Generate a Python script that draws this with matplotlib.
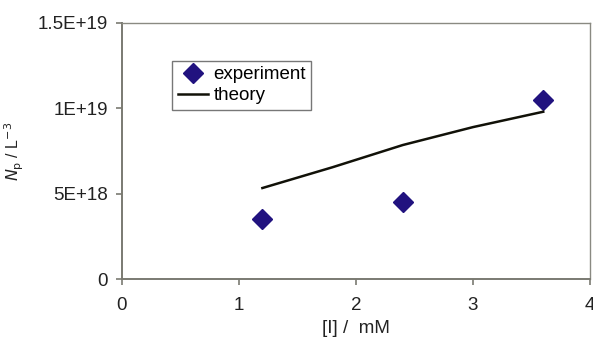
import matplotlib.pyplot as plt
from matplotlib.ticker import FixedLocator

plt.rcParams["font.family"] = ["Liberation Sans", "DejaVu Sans"]

# measured particle density vs. initiator concentration
conc_exp = [1.2, 2.4, 3.6]
np_exp = [3.5e18, 4.5e18, 10.5e18]

# model curve
conc_theory = [1.2, 1.8, 2.4, 3.0, 3.6]
np_theory = [5.33e18, 6.55e18, 7.85e18, 8.9e18, 9.8e18]

yticks = [0, 5e18, 1e19, 1.5e19]
ytick_labels = ["0", "5E+18", "1E+19", "1.5E+19"]
xticks = [0, 1, 2, 3, 4]

fig = plt.figure(figsize=(5.93, 3.41), dpi=100)
ax = fig.add_axes([0.2057, 0.1818, 0.7893, 0.7508])

ax.plot(conc_exp, np_exp, linestyle="none", marker="D", markersize=10,
        color="#21127f", label="experiment")
ax.plot(conc_theory, np_theory, color="#111108", linewidth=1.8, label="theory")

ax.set_xlim(0, 4)
ax.set_ylim(0, 1.5e19)
ax.xaxis.set_major_locator(FixedLocator(xticks))
ax.set_yticks(yticks)
ax.set_yticklabels(ytick_labels)
ax.set_xticklabels([str(t) for t in xticks])

for side in ["left", "bottom"]:
    ax.spines[side].set_color("#7a7a72")
    ax.spines[side].set_linewidth(1.4)
for side in ["top", "right"]:
    ax.spines[side].set_color("#8a8a82")
    ax.spines[side].set_linewidth(1.0)
ax.tick_params(axis="both", direction="out", length=4, width=1.2,
               color="#7a7a72", labelsize=13.5, labelcolor="#222222")
ax.tick_params(axis="x", pad=9)
ax.tick_params(axis="y", pad=6)

ax.set_xlabel("[I] /  mM", fontsize=13.5, labelpad=4, color="#222222")
ax.set_ylabel(r"$N_{\mathrm{p}}$ / L$^{-3}$", fontsize=11.5, color="#222222")
ax.yaxis.set_label_coords(-0.205, 0.5)

leg = ax.legend(loc="upper left", bbox_to_anchor=(0.107, 0.853), fontsize=13.5,
                frameon=True, fancybox=False, edgecolor="#555555",
                handlelength=1.6, handletextpad=0.3, borderpad=0.3,
                labelspacing=0.2, borderaxespad=0)
leg.get_frame().set_linewidth(1.0)

fig.savefig("out.png", dpi=100)
